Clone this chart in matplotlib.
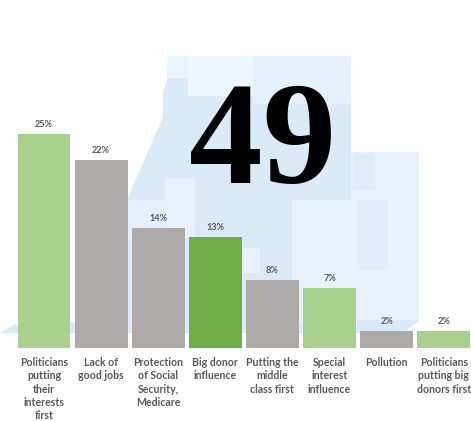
import matplotlib
matplotlib.use("Agg")
import matplotlib.pyplot as plt
from matplotlib.patches import Polygon, Rectangle

categories = ["Politicians\nputting\ntheir\ninterests\nfirst", "Lack of\ngood jobs",
              "Protection\nof Social\nSecurity,\nMedicare", "Big donor\ninfluence",
              "Putting the\nmiddle\nclass first", "Special\ninterest\ninfluence",
              "Pollution", "Politicians\nputting big\ndonors first"]
values = [25, 22, 14, 13, 8, 7, 2, 2]
bar_colors = ["#A9D18E", "#AEAAAA", "#AEAAAA", "#70AD47", "#AEAAAA", "#A9D18E", "#AEAAAA", "#A9D18E"]
title = "49"

W, H = 471, 421
fig = plt.figure(figsize=(W / 100, H / 100), dpi=100, facecolor="white")

# decorative map backdrop, in pixel coordinates
bg = fig.add_axes([0, 0, 1, 1])
bg.set_xlim(0, W); bg.set_ylim(H, 0); bg.axis("off")
outline = [(168, 56), (351, 56), (351, 152), (419, 152), (419, 320), (404, 333), (0, 333),
           (14, 325), (75, 322), (100, 265), (128, 197), (143, 163), (163, 117), (163, 93), (167, 80)]
bg.add_patch(Polygon(outline, closed=True, fc="#DBEAF9", ec="none"))
light = [(188, 56, 65, 40, "#EFF7FE"), (168, 56, 20, 22, "#E9F3FC"), (253, 56, 98, 48, "#E4F0FB"),
         (351, 152, 68, 168, "#E8F2FC"), (292, 200, 65, 125, "#E8F2FC"), (128, 200, 37, 40, "#E4F0FB"),
         (165, 178, 30, 60, "#E6F1FB"), (242, 248, 18, 25, "#E8F2FC")]
for x, y, w, h, c in light:
    bg.add_patch(Rectangle((x, y), w, h, fc=c, ec="none"))
dark = [(353, 153, 22, 37, "#DFECFA"), (357, 200, 31, 70, "#E0EDFA")]
for x, y, w, h, c in dark:
    bg.add_patch(Rectangle((x, y), w, h, fc=c, ec="none"))

# chart axes fill the figure
ax = fig.add_axes([0, 0, 1, 1])
ax.patch.set_alpha(0)
step, ppu = 57.1, 8.56
ax.set_xlim(-44 / step, (W - 44) / step)
ax.set_ylim(-(H - 348) / ppu, 348 / ppu)
ax.axis("off")

xs = range(len(values))
ax.bar(xs, values, width=0.925, color=bar_colors)
for x, v, c in zip(xs, values, categories):
    ax.annotate(f"{v}%", (x, v), xytext=(0, 5), textcoords="offset pixels", ha="center", va="bottom",
                fontsize=6.6, color="#595959", family="Lato", fontweight="bold")
    ax.annotate(c, (x, 0), xytext=(0, -9), textcoords="offset pixels", ha="center", va="top",
                fontsize=7.6, color="#595959", family="Lato", fontweight="bold", linespacing=1.26,
                annotation_clip=False)

fig.text(262.5 / W, 1 - 183 / H, title, ha="center", va="baseline", fontsize=106,
         family="Liberation Serif", fontweight="bold", color="black")
fig.savefig("out.png", dpi=100)
